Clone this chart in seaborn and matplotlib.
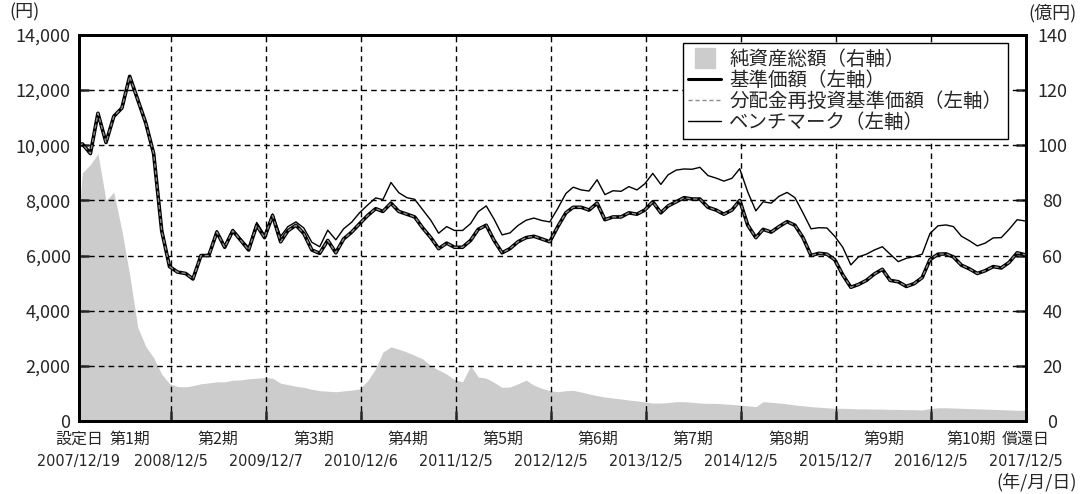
import numpy as np
import pandas as pd
import matplotlib
matplotlib.use("Agg")
import matplotlib.pyplot as plt
from matplotlib.lines import Line2D
import seaborn as sns

sns.set_style("ticks")
plt.rcParams['font.family'] = ['Noto Sans CJK JP', 'DejaVu Sans']
narrow = ['Liberation Sans Narrow', 'DejaVu Sans', 'Noto Sans CJK JP']

# dates: launch day, first of each month, redemption day
start_date = "2007-12-19"
end_date = "2017-12-05"
month_dates = pd.date_range("2008-01-01", "2017-11-01", freq="MS")
dates = pd.to_datetime([start_date]).append(month_dates).append(pd.to_datetime([end_date]))

# 基準価額 (円)
nav = [10000,
       10050, 9700, 11160, 10100, 11050, 11350, 12500, 11650, 10800, 9700, 6900, 5600,
       5400, 5350, 5150, 6000, 6000, 6850, 6300, 6900, 6550, 6200, 7100, 6650,
       7450, 6500, 6900, 7100, 6800, 6200, 6080, 6550, 6100, 6600, 6850, 7150,
       7450, 7700, 7600, 7900, 7600, 7500, 7400, 7000, 6650, 6250, 6450, 6300,
       6300, 6550, 6950, 7100, 6550, 6100, 6250, 6500, 6650, 6700, 6600, 6500,
       7050, 7550, 7750, 7750, 7650, 7900, 7300, 7400, 7400, 7550, 7500, 7650,
       7950, 7550, 7800, 7950, 8100, 8050, 8050, 7750, 7650, 7500, 7650, 8000,
       7100, 6650, 6950, 6850, 7050, 7230, 7100, 6650, 6000, 6080, 6050, 5850,
       5300, 4850, 4950, 5100, 5330, 5500, 5100, 5050, 4880, 4980, 5200, 5850,
       6050, 6060, 5950, 5650, 5520, 5350, 5450, 5600, 5550, 5750, 6100,
       6020]

# 分配金再投資基準価額 (円) - no distributions, lies on top of nav
reinvest_nav = list(nav)

# ベンチマーク (円)
benchmark = [10000,
             10050, 9700, 11160, 10100, 11050, 11350, 12500, 11650, 10800, 9700, 6900, 5600,
             5400, 5350, 5150, 6000, 6050, 6900, 6350, 6950, 6600, 6300, 7200, 6750,
             7510, 6700, 7050, 7220, 7000, 6480, 6320, 6920, 6570, 6970, 7210, 7550,
             7830, 8090, 8030, 8650, 8280, 8100, 8040, 7660, 7280, 6810, 7050, 6910,
             6910, 7160, 7590, 7800, 7320, 6750, 6820, 7090, 7280, 7360, 7270, 7220,
             7710, 8250, 8480, 8380, 8340, 8750, 8210, 8350, 8330, 8500, 8380, 8600,
             8980, 8580, 8930, 9100, 9140, 9130, 9200, 8900, 8810, 8700, 8800, 9150,
             8300, 7620, 7950, 7900, 8150, 8290, 8100, 7550, 6970, 7010, 7000, 6700,
             6300, 5660, 5950, 6050, 6200, 6320, 6050, 5780, 5900, 5960, 6050, 6800,
             7080, 7110, 7050, 6700, 6540, 6350, 6450, 6640, 6650, 6950, 7300,
             7250]

# 純資産総額 (億円)
net_assets = [75,
              90, 93, 97, 80, 83, 69, 53, 34, 27, 23, 17, 13.5,
              12.5, 12.4, 12.8, 13.5, 13.8, 14.2, 14.2, 14.8, 14.9, 15.3, 15.5, 15.8,
              15.5, 13.7, 13.2, 12.6, 12.2, 11.5, 11.0, 10.8, 10.6, 10.9, 11.2, 11.6,
              14.5, 19, 25, 26.9, 26, 25, 23.8, 22.5, 20, 18.5, 17, 15,
              14.2, 20, 16, 15.5, 14, 12.2, 12.3, 13.5, 14.8, 13, 11.8, 11,
              10.6, 11, 11.1, 10.5, 9.8, 9.2, 8.7, 8.3, 8.0, 7.6, 7.3, 6.9,
              6.5, 6.5, 6.7, 7.0, 7.0, 6.8, 6.5, 6.4, 6.4, 6.2, 6.0, 5.8,
              5.5, 5.2, 7.0, 6.8, 6.5, 6.2, 5.8, 5.5, 5.2, 5.0, 4.8, 4.6,
              4.6, 4.5, 4.4, 4.4, 4.3, 4.3, 4.2, 4.2, 4.1, 4.1, 4.0, 4.5,
              4.8, 4.8, 4.7, 4.6, 4.5, 4.4, 4.3, 4.2, 4.1, 4.0, 3.9,
              3.9]

boundary_dates = ["2007-12-19", "2008-12-05", "2009-12-07", "2010-12-06", "2011-12-05",
                  "2012-12-05", "2013-12-05", "2014-12-05", "2015-12-07", "2016-12-05",
                  "2017-12-05"]
boundary_labels = ["2007/12/19", "2008/12/5", "2009/12/7", "2010/12/6", "2011/12/5",
                   "2012/12/5", "2013/12/5", "2014/12/5", "2015/12/7", "2016/12/5",
                   "2017/12/5"]
period_labels = ["設定日", "第1期", "第2期", "第3期", "第4期", "第5期", "第6期",
                 "第7期", "第8期", "第9期", "第10期", "償還日"]

yen_ticks = list(range(0, 14001, 2000))
oku_ticks = list(range(0, 141, 20))

df = pd.DataFrame({"date": dates, "nav": nav, "reinvest": reinvest_nav,
                   "bench": benchmark, "assets": net_assets})

fig = plt.figure(figsize=(10.8, 4.94), dpi=100)
ax = fig.add_axes([0.0731, 0.1478, 0.8769, 0.7814])
ax2 = ax.twinx()
ax.set_zorder(ax2.get_zorder() + 1)
ax.patch.set_visible(False)

# net assets area on the right axis
ax2.fill_between(df["date"], df["assets"], color="#cccccc", lw=0)

# price lines on the left axis
sns.lineplot(data=df, x="date", y="bench", ax=ax, color="black", lw=1.0)
sns.lineplot(data=df, x="date", y="nav", ax=ax, color="black", lw=2.6)
sns.lineplot(data=df, x="date", y="reinvest", ax=ax, color="#8c8c8c", lw=1.0)
ax.lines[-1].set_dashes((3, 2))

bdates = pd.to_datetime(boundary_dates)
mids = [bdates[i] + (bdates[i + 1] - bdates[i]) / 2 for i in range(len(bdates) - 1)]
# nudge the first and last period names so they clear 設定日 / 償還日
mids[0] = mids[0] + pd.Timedelta(days=18)
mids[-1] = mids[-1] - pd.Timedelta(days=28)
period_pos = [bdates[0]] + mids + [bdates[-1]]

ax.set_xlim(bdates[0], bdates[-1])
ax.set_ylim(0, 14000)
ax2.set_ylim(0, 140)

ax.set_xticks(bdates)
ax.set_xticklabels(boundary_labels)
ax.set_xticks(period_pos, minor=True)
ax.set_xticklabels(period_labels, minor=True)
ax.xaxis.remove_overlapping_locs = False

ax.set_yticks(yen_ticks)
ax.set_yticklabels([f"{v:,}" for v in yen_ticks])
ax2.set_yticks(oku_ticks)
ax2.set_yticklabels([str(v) for v in oku_ticks])

ax.grid(True, which="major", color="black", ls=(0, (4, 3)), lw=1.0)

ax.tick_params(axis="x", which="major", direction="in", length=7, width=1.8,
               pad=24, labelsize=11.5)
ax.tick_params(axis="x", which="minor", length=0, pad=7, labelsize=11.5)
ax.tick_params(axis="y", direction="in", length=7, width=1.8, pad=6, labelsize=13)
ax2.tick_params(axis="y", direction="in", length=7, width=1.8, pad=19, labelsize=13)
for lab in ax2.get_yticklabels():
    lab.set_horizontalalignment("center")
for lab in ax.get_xticklabels():
    lab.set_fontfamily(narrow)
    lab.set_fontstretch("condensed")

for a in (ax, ax2):
    for sp in a.spines.values():
        sp.set_linewidth(2.0)
        sp.set_color("black")
        sp.set_visible(True)

ax.set_xlabel("")
ax.set_ylabel("")
ax2.set_ylabel("")

handles = [Line2D([], [], marker="s", ms=15, color="#cccccc", ls="none"),
           Line2D([], [], color="black", lw=2.2),
           Line2D([], [], color="#8c8c8c", lw=1.0, dashes=(3, 2)),
           Line2D([], [], color="black", lw=1.0)]
labels = ["純資産総額（右軸）", "基準価額（左軸）", "分配金再投資基準価額（左軸）", "ベンチマーク（左軸）"]
leg = ax.legend(handles, labels, loc="upper right", bbox_to_anchor=(0.981, 0.979),
                frameon=True, fancybox=False, edgecolor="black", framealpha=1,
                fontsize=14, handlelength=1.7, handletextpad=0.4, labelspacing=0.0,
                borderpad=0.3, borderaxespad=0)
leg.get_frame().set_linewidth(1.0)

fig.text(0.009, 0.974, "(円)", ha="left", va="center", fontsize=13)
fig.text(0.997, 0.974, "(億円)", ha="right", va="center", fontsize=13)
fig.text(0.997, 0.024, "(年/月/日)", ha="right", va="center", fontsize=13)

fig.savefig("out.png", dpi=100)
